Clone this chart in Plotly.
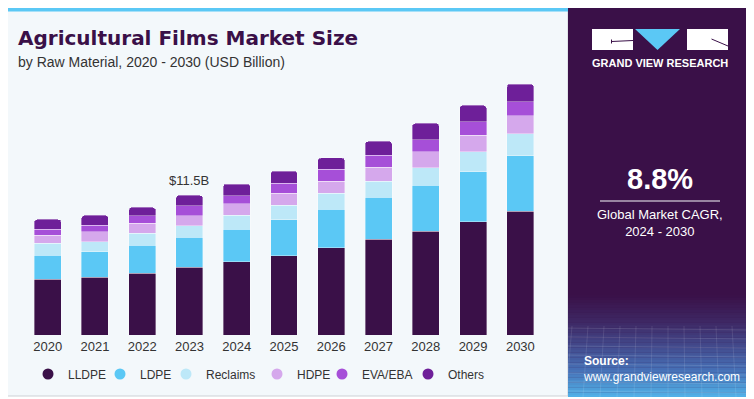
import plotly.graph_objects as go

# ---------------- data ----------------
years = ["2020", "2021", "2022", "2023", "2024", "2025", "2026", "2027", "2028", "2029", "2030"]
lldpe = [4.58, 4.75, 5.08, 5.57, 6.03, 6.53, 7.19, 7.88, 8.56, 9.33, 10.18]
ldpe = [1.98, 2.11, 2.33, 2.49, 2.69, 2.96, 3.19, 3.46, 3.76, 4.12, 4.61]
reclaims = [0.99, 0.82, 0.96, 0.96, 1.15, 1.19, 1.29, 1.34, 1.45, 1.65, 1.78]
hdpe = [0.66, 0.82, 0.82, 0.79, 0.93, 0.99, 1.01, 1.13, 1.32, 1.35, 1.48]
eva_eba = [0.49, 0.55, 0.63, 0.82, 0.69, 0.82, 0.96, 0.99, 0.99, 1.12, 1.15]
others = [0.82, 0.80, 0.69, 0.87, 0.95, 1.01, 0.95, 1.15, 1.35, 1.35, 1.46]

series_names = ["LLDPE", "LDPE", "Reclaims", "HDPE", "EVA/EBA", "Others"]
series_values = [lldpe, ldpe, reclaims, hdpe, eva_eba, others]
series_colors = ["#3A1048", "#5BC8F5", "#BDE8F8", "#D5A8EC", "#A64FD8", "#6E1F99"]

label_year = "2023"
label_text = "$11.5B"
cagr_text = "8.8%"

# ---------------- layout geometry ----------------
# The page body adds an 8px offset; the figure is sized so that it fills the window.
OFF = 8
W, H = 754 - OFF, 399 - OFF
ML, MR, MT, MB = 24 - OFF, 210, 68 - OFF, 64
PW, PH = W - ML - MR, H - MT - MB


def xp(px):
    """window pixel x -> paper"""
    return (px - OFF - ML) / PW


def yp(py):
    """window pixel y -> paper"""
    return (H - MB - (py - OFF)) / PH


fig = go.Figure()

for name, vals, col in zip(series_names, series_values, series_colors):
    fig.add_trace(go.Bar(
        x=years, y=vals, name=name, marker_color=col,
        marker_line=dict(color="rgba(255,255,255,0.45)", width=0.8),
        showlegend=False, hoverinfo="skip",
    ))

# legend entries (circle symbols), one small legend per entry
legend_circle_px = [51, 123, 189, 280, 345, 431]
legend_layout = {}
for i, (name, col) in enumerate(zip(series_names, series_colors)):
    lg = "legend" if i == 0 else "legend%d" % (i + 1)
    fig.add_trace(go.Scatter(
        x=[years[0]], y=[None], mode="markers", name=name, legend=lg,
        marker=dict(symbol="circle", size=11, color=col), showlegend=True, hoverinfo="skip",
    ))
    legend_layout[lg] = dict(
        orientation="h", x=xp(legend_circle_px[i] - 23), y=yp(374), xanchor="left", yanchor="middle",
        bgcolor="rgba(0,0,0,0)", borderwidth=0, itemwidth=30,
        font=dict(family="Liberation Sans, Arial", size=12, color="#333333"),
    )

totals = [sum(v) for v in zip(*series_values)]
idx = years.index(label_year)
fig.add_annotation(x=idx, y=totals[idx], xref="x", yref="y", text=label_text, showarrow=False,
                   yanchor="bottom", yshift=5,
                   font=dict(family="Liberation Sans, Arial", size=13, color="#333333"))

shapes = []
# card background
shapes.append(dict(type="rect", xref="paper", yref="paper", layer="below",
                   x0=xp(0.5), x1=xp(568), y0=yp(396), y1=yp(7),
                   fillcolor="#F3F8FB", line=dict(color="#CDD1D5", width=1)))
# cyan top strip
shapes.append(dict(type="rect", xref="paper", yref="paper", layer="below",
                   x0=xp(0), x1=xp(568), y0=yp(11.5), y1=yp(7),
                   fillcolor="#5BC8F5", line=dict(width=0)))
# right panel
shapes.append(dict(type="rect", xref="paper", yref="paper", layer="below",
                   x0=xp(568), x1=xp(753), y0=yp(397), y1=yp(6),
                   fillcolor="#3A1048", line=dict(width=0)))
# gradient at bottom of right panel
stops = [(295, (58, 16, 72)), (322, (62, 40, 100)), (345, (66, 72, 138)),
         (370, (70, 112, 182)), (397, (82, 178, 232))]
y = 295.0
step = 2.5
while y < 397:
    yc = y + step / 2
    for (y0s, c0), (y1s, c1) in zip(stops[:-1], stops[1:]):
        if y0s <= yc <= y1s:
            t = (yc - y0s) / (y1s - y0s)
            c = tuple(int(round(a + (b - a) * t)) for a, b in zip(c0, c1))
            break
    shapes.append(dict(type="rect", xref="paper", yref="paper", layer="below",
                       x0=xp(568), x1=xp(753), y0=yp(min(y + step + 0.3, 397)), y1=yp(y),
                       fillcolor="rgb(%d,%d,%d)" % c, line=dict(width=0)))
    y += step
# faint mesh lines
for k in range(8):
    yy = 328 + k * 9
    shapes.append(dict(type="line", xref="paper", yref="paper", layer="below",
                       x0=xp(568), x1=xp(753), y0=yp(yy), y1=yp(yy + 2),
                       line=dict(color="rgba(255,255,255,0.12)", width=1)))
for k in range(12):
    xx = 572 + k * 16
    shapes.append(dict(type="line", xref="paper", yref="paper", layer="below",
                       x0=xp(xx), x1=xp(xx - 6 + k), y0=yp(326), y1=yp(397),
                       line=dict(color="rgba(255,255,255,0.10)", width=1)))

# logo
shapes.append(dict(type="rect", xref="paper", yref="paper", layer="above",
                   x0=xp(592), x1=xp(633), y0=yp(50), y1=yp(29),
                   fillcolor="white", line=dict(width=0)))
shapes.append(dict(type="rect", xref="paper", yref="paper", layer="above",
                   x0=xp(687), x1=xp(728), y0=yp(50), y1=yp(29),
                   fillcolor="white", line=dict(width=0)))
shapes.append(dict(type="path", xref="paper", yref="paper", layer="above",
                   path="M %f %f L %f %f L %f %f Z" % (xp(635), yp(29), xp(680), yp(29), xp(657.5), yp(50)),
                   fillcolor="#5BC8F5", line=dict(width=0)))
shapes.append(dict(type="line", xref="paper", yref="paper", layer="above",
                   x0=xp(611.5), x1=xp(633), y0=yp(41.5), y1=yp(40.5),
                   line=dict(color="#3A1048", width=1)))
shapes.append(dict(type="line", xref="paper", yref="paper", layer="above",
                   x0=xp(611.5), x1=xp(611.5), y0=yp(39.5), y1=yp(43.5),
                   line=dict(color="#3A1048", width=1)))
shapes.append(dict(type="line", xref="paper", yref="paper", layer="above",
                   x0=xp(711.5), x1=xp(728), y0=yp(39), y1=yp(46),
                   line=dict(color="#3A1048", width=1)))
# divider under CAGR
shapes.append(dict(type="line", xref="paper", yref="paper", layer="above",
                   x0=xp(600), x1=xp(720), y0=yp(201), y1=yp(201),
                   line=dict(color="rgba(255,255,255,0.65)", width=1.5)))

annotations = [
    dict(text="<b>Agricultural Films Market Size</b>", x=xp(16), y=yp(38), xanchor="left", yanchor="middle",
         font=dict(family="DejaVu Sans", size=20, color="#3A1048")),
    dict(text="by Raw Material, 2020 - 2030 (USD Billion)", x=xp(16), y=yp(62), xanchor="left", yanchor="middle",
         font=dict(family="Liberation Sans, Arial", size=14, color="#333333")),
    dict(text="<b>GRAND VIEW RESEARCH</b>", x=xp(660), y=yp(63), xanchor="center", yanchor="middle",
         font=dict(family="Liberation Sans, Arial", size=11, color="white")),
    dict(text="<b>" + cagr_text + "</b>", x=xp(660), y=yp(179), xanchor="center", yanchor="middle",
         font=dict(family="Liberation Sans, Arial", size=29, color="white")),
    dict(text="Global Market CAGR,<br>2024 - 2030", x=xp(660), y=yp(222.5), xanchor="center", yanchor="middle",
         font=dict(family="Liberation Sans, Arial", size=13, color="white")),
    dict(text="<b>Source:</b>", x=xp(582), y=yp(361), xanchor="left", yanchor="middle",
         font=dict(family="Liberation Sans, Arial", size=12, color="white")),
    dict(text="www.grandviewresearch.com", x=xp(581), y=yp(377), xanchor="left", yanchor="middle",
         font=dict(family="Liberation Sans, Arial", size=12, color="white")),
]
for a in annotations:
    a.update(xref="paper", yref="paper", showarrow=False)
    fig.add_annotation(**a)

fig.update_layout(
    width=W, height=H,
    margin=dict(l=ML, r=MR, t=MT, b=MB, pad=0, autoexpand=False),
    paper_bgcolor="white", plot_bgcolor="rgba(0,0,0,0)",
    barmode="stack", bargap=0.43, barcornerradius=3,
    shapes=shapes,
    showlegend=True,
    xaxis=dict(type="category", categoryorder="array", categoryarray=years, range=[-0.5, len(years) - 0.5],
               showgrid=False, zeroline=False, showline=False, ticks="", automargin=False,
               ticklabelstandoff=2,
               tickfont=dict(family="Liberation Sans, Arial", size=13, color="#333333"), fixedrange=True),
    yaxis=dict(range=[0, 22], visible=False, fixedrange=True, automargin=False),
    **legend_layout,
)

fig.write_html("out.html")
